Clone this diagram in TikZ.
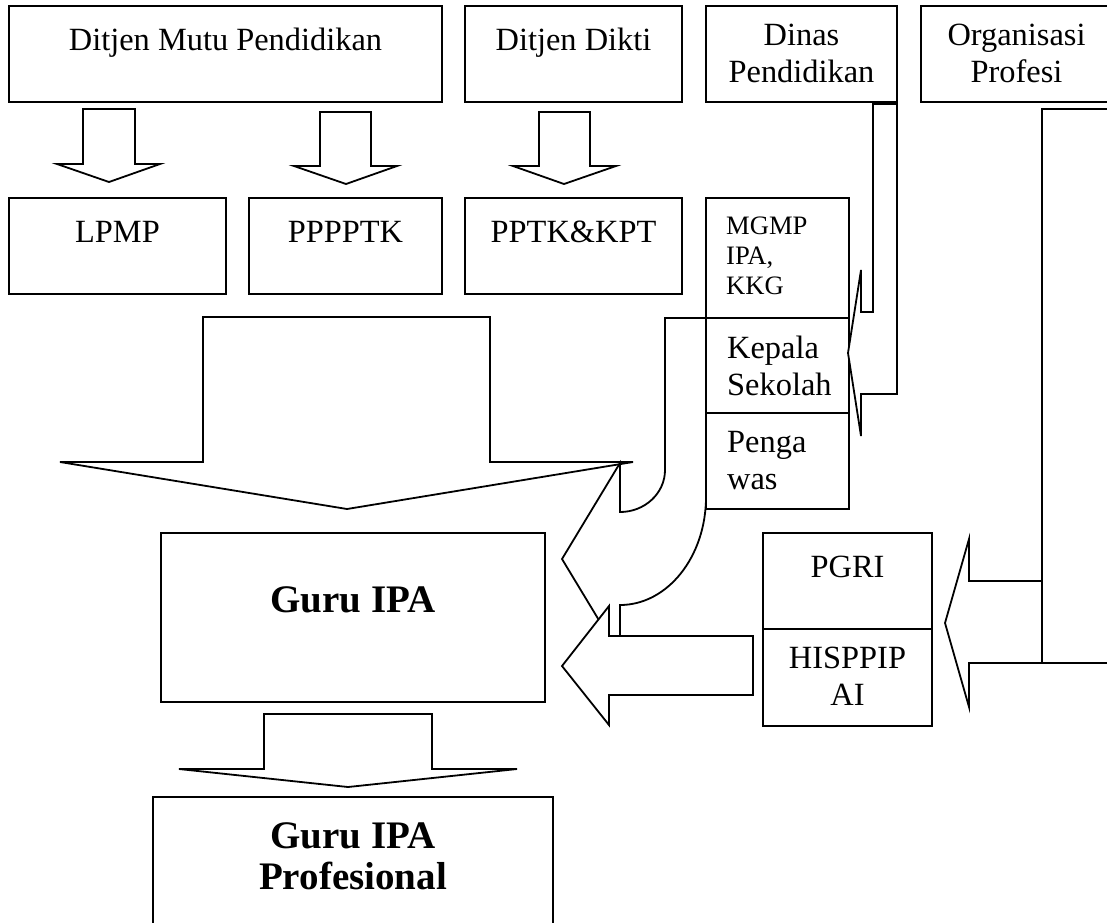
\documentclass[tikz,border=0pt]{standalone}
\usepackage{fontspec}
\setmainfont{Liberation Serif}
\tikzset{
  box/.style={draw, line width=1.8pt, fill=white, inner sep=0pt},
  txt/.style={anchor=north, inner sep=0pt, align=center, yshift=-4pt,
    font=\fontsize{32.4}{37}\selectfont, execute at begin node=\strut},
  lefttxt/.style={txt, anchor=north west, align=left},
  smalltxt/.style={lefttxt, font=\fontsize{26.6}{30}\selectfont},
  boldtxt/.style={txt, font=\fontsize{39}{41}\selectfont\bfseries},
  blockarrow/.style={draw, line width=1.8pt, fill=white, line join=miter},
  edge/.style={draw, line width=1.8pt, line join=miter}
}
\begin{document}
\begin{tikzpicture}[x=1pt, y=-1pt]
  \useasboundingbox (0,0) rectangle (1107,922);
  % top row
  \node[box, minimum width=433pt, minimum height=96pt] (mutu) at (225.5,54) {};
  \node[box, minimum width=217pt, minimum height=96pt] (dikti) at (573.5,54) {};
  \node[box, minimum width=191pt, minimum height=96pt] (dinas) at (801.5,54) {};
  \node[box, minimum width=191pt, minimum height=96pt] (orgprof) at (1016.5,54) {};
  \node[txt] (mututxt) at (225.5,20.1) {Ditjen Mutu Pendidikan};
  \node[txt] (diktitxt) at (573.5,20.1) {Ditjen Dikti};
  \node[txt] (dinastxt) at (801.5,20.1) {Dinas\\Pendidikan};
  \node[txt] (orgproftxt) at (1016.5,20.1) {Organisasi\\Profesi};
  \draw[blockarrow] (83,109) -- (135,109) -- (135,164) -- (160,164) -- (109,182) -- (57,164) -- (83,164) -- cycle;
  \draw[blockarrow] (320,112) -- (371,112) -- (371,166) -- (397,166) -- (346,184) -- (294,166) -- (320,166) -- cycle;
  \draw[blockarrow] (539,112) -- (590,112) -- (590,166) -- (616,166) -- (564,184) -- (513,166) -- (539,166) -- cycle;
  % second row
  \node[box, minimum width=217pt, minimum height=96pt] (lpmp) at (117.5,246) {};
  \node[box, minimum width=193pt, minimum height=96pt] (pppptk) at (345.5,246) {};
  \node[box, minimum width=217pt, minimum height=96pt] (pptk) at (573.5,246) {};
  \node[txt] (lpmptxt) at (117.5,212.1) {LPMP};
  \node[txt] (pppptktxt) at (345.5,212.1) {PPPPTK};
  \node[txt] (pptktxt) at (573.5,212.1) {PPTK\&KPT};
  \draw[blockarrow] (203,317) -- (490,317) -- (490,462) -- (633,462) -- (347,509) -- (60,462) -- (203,462) -- cycle;
  \draw[blockarrow] (665,318) -- (706,318) -- (706,497)
    arc[start angle=0, end angle=-90, x radius=86pt, y radius=108pt]
    -- (620,655) -- (562,559) -- (620,463) -- (620,512)
    arc[start angle=-90, end angle=0, x radius=45pt, y radius=42pt] -- cycle;
  % school column
  \node[box, minimum width=143pt, minimum height=120pt] (mgmp) at (777.5,258) {};
  \node[box, minimum width=143pt, minimum height=95pt] (kepsek) at (777.5,365.5) {};
  \node[box, minimum width=143pt, minimum height=96pt] (pengawas) at (777.5,461) {};
  \node[smalltxt] (mgmptxt) at (726,213) {MGMP\\IPA,\\KKG};
  \node[lefttxt] (kepsektxt) at (727,332.1) {Kepala\\Sekolah};
  \node[lefttxt] (pengawastxt) at (727,427.1) {Penga\\was};
  \draw[blockarrow] (873,104) -- (897,104) -- (897,394) -- (861,394) -- (861,436) -- (848,353) -- (861,270) -- (861,312) -- (873,312) -- cycle;
  % organisations
  \draw[edge] (1112,109) -- (1042,109) -- (1042,663);
  \draw[edge] (1112,663) -- (969,663) -- (969,707) -- (945,623) -- (969,539) -- (969,581) -- (1042,581);
  \node[box, minimum width=169pt, minimum height=96pt] (pgri) at (847.5,581) {};
  \node[box, minimum width=169pt, minimum height=97pt] (hisppipai) at (847.5,677.5) {};
  \node[txt] (pgritxt) at (847.5,547.1) {PGRI};
  \node[txt] (hisppipaitxt) at (847.5,643.1) {HISPPIP\\AI};
  \draw[blockarrow] (753,636) -- (753,695) -- (609,695) -- (609,725) -- (562,666) -- (609,606) -- (609,636) -- cycle;
  % teachers
  \node[box, minimum width=384pt, minimum height=169pt] (guru) at (353,617.5) {};
  \node[boldtxt] (gurutxt) at (353,580) {Guru IPA};
  \draw[blockarrow] (264,714) -- (432,714) -- (432,769) -- (517,769) -- (348,787) -- (179,769) -- (264,769) -- cycle;
  \node[box, minimum width=400pt, minimum height=133pt] (profesional) at (353,863.5) {};
  \node[boldtxt] (profesionaltxt) at (353,818) {Guru IPA\\Profesional};
\end{tikzpicture}
\end{document}
